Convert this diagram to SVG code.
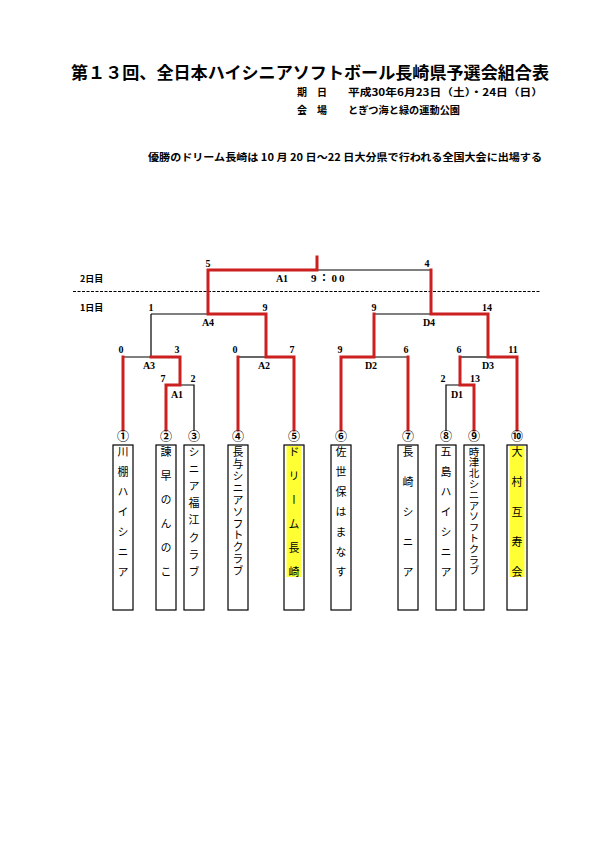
<svg xmlns="http://www.w3.org/2000/svg" width="595" height="842" viewBox="0 0 595 842">
<style>
.bg{fill:#ffffff}
.r{stroke:#cc1f1f;stroke-width:3;fill:none;stroke-linecap:square}
.k{stroke:#000;stroke-width:1.2;fill:none}
.dash{stroke:#000;stroke-width:1.2;stroke-dasharray:3 1.5;fill:none}
.box{fill:#fff;stroke:#000;stroke-width:1.2}
.hl{fill:#ffff33}
.title{font-family:"Noto Sans CJK JP","Noto Sans",sans-serif;font-weight:bold;font-size:17px;fill:#000}
.sub{font-family:"Noto Sans CJK JP","Noto Sans",sans-serif;font-weight:bold;font-size:10px;fill:#000}
.num{font-family:"Liberation Serif","Noto Sans CJK JP",serif;font-weight:bold;font-size:10px;fill:#000;text-anchor:middle}
.time{font-family:"Liberation Serif","Noto Sans CJK JP",serif;font-weight:bold;font-size:11px;fill:#000;letter-spacing:2px}
.day{font-family:"Noto Sans CJK JP",sans-serif;font-weight:bold;font-size:9px;fill:#000}
.circ{font-family:"Noto Sans CJK JP",sans-serif;font-weight:bold;font-size:12px;fill:#000;text-anchor:middle}
.team{font-family:"Noto Sans CJK JP",sans-serif;font-size:11px;fill:#000;writing-mode:vertical-rl}
.team9{font-family:"Noto Sans CJK JP",sans-serif;font-size:10.5px;fill:#000;writing-mode:vertical-rl}
</style>
<rect class="bg" x="0" y="0" width="595" height="842"/>

<g id="header">
<text class="title" x="71" y="79" textLength="478" lengthAdjust="spacingAndGlyphs">第１３回、全日本ハイシニアソフトボール長崎県予選会組合表</text>
<text class="sub" x="297" y="96">期</text>
<text class="sub" x="317" y="96">日</text>
<text class="sub" x="348" y="96" textLength="195" lengthAdjust="spacingAndGlyphs">平成30年6月23日（土）・24日（日）</text>
<text class="sub" x="297" y="114">会</text>
<text class="sub" x="317" y="114">場</text>
<text class="sub" x="348" y="114" textLength="112" lengthAdjust="spacingAndGlyphs">とぎつ海と緑の運動公園</text>
<text class="sub" x="148" y="161" textLength="394" lengthAdjust="spacingAndGlyphs">優勝のドリーム長崎は 10 月 20 日～22 日大分県で行われる全国大会に出場する</text>
</g>

<g id="days">
<text class="day" x="80" y="282">2日目</text>
<line class="dash" x1="73" y1="291.5" x2="540" y2="291.5"/>
<text class="day" x="80" y="311">1日目</text>
</g>

<g id="connectors">
<path class="k" d="M151 314 H208 M151 314 V357 M123 357 H151"/>
<path class="k" d="M180 385 H194 V431"/>
<path class="k" d="M238 357 H266"/>
<path class="k" d="M317 270 H431"/>
<path class="k" d="M374 314 H431"/>
<path class="k" d="M374 357 H408"/>
<path class="k" d="M460 357 H488"/>
<path class="k" d="M446 431 V385 H460"/>
<path class="r" d="M317 257 V270 H208 V314 H266 V357 H294 V430"/>
<path class="r" d="M238 357 V430"/>
<path class="r" d="M151 357 H180 V385 H166 V430"/>
<path class="r" d="M123 357 V430"/>
<path class="r" d="M431 270 V314 H488 V357 H517 V430"/>
<path class="r" d="M374 314 V357 H341 V430"/>
<path class="r" d="M408 357 V430"/>
<path class="r" d="M460 357 V385 H474 V430"/>
</g>

<g id="scores">
<text class="num" x="208" y="267">5</text>
<text class="num" x="427" y="267">4</text>
<text class="num" x="282" y="282">A1</text>
<text class="time" x="311" y="282">9：00</text>
<text class="num" x="151" y="311">1</text>
<text class="num" x="265" y="311">9</text>
<text class="num" x="208" y="326">A4</text>
<text class="num" x="374" y="311">9</text>
<text class="num" x="487" y="311">14</text>
<text class="num" x="429" y="326">D4</text>
<text class="num" x="121" y="353">0</text>
<text class="num" x="177" y="353">3</text>
<text class="num" x="149" y="369">A3</text>
<text class="num" x="235" y="353">0</text>
<text class="num" x="292" y="353">7</text>
<text class="num" x="264" y="369">A2</text>
<text class="num" x="163" y="382">7</text>
<text class="num" x="193" y="382">2</text>
<text class="num" x="177" y="398">A1</text>
<text class="num" x="340" y="353">9</text>
<text class="num" x="406" y="353">6</text>
<text class="num" x="371" y="369">D2</text>
<text class="num" x="459" y="353">6</text>
<text class="num" x="513" y="353">11</text>
<text class="num" x="488" y="369">D3</text>
<text class="num" x="443" y="382">2</text>
<text class="num" x="475" y="382">13</text>
<text class="num" x="457" y="398">D1</text>
</g>

<g id="team1">
<text class="circ" x="123" y="441">①</text>
<rect class="box" x="113" y="445" width="20" height="165"/>
<text class="team" x="123" y="446.5 466.5 486.5 506.5 526.5 546.5 566.5">川棚ハイシニア</text>
</g>
<g id="team2">
<text class="circ" x="166" y="441">②</text>
<rect class="box" x="156" y="445" width="20" height="165"/>
<text class="team" x="166" y="446.5 470.5 494.5 518.5 542.5 566.5">諫早のんのこ</text>
</g>
<g id="team3">
<text class="circ" x="194" y="441">③</text>
<rect class="box" x="184" y="445" width="20" height="165"/>
<text class="team" x="194" y="446.5 463.6 480.6 497.7 514.8 531.9 548.9 566">シニア福江クラブ</text>
</g>
<g id="team4">
<text class="circ" x="238" y="441">④</text>
<rect class="box" x="228" y="445" width="20" height="165"/>
<text class="team" x="238" y="446.5 458.4 470.3 482.2 494.1 506 517.9 529.8 541.7 553.6 565.5">長与シニアソフトクラブ</text>
</g>
<g id="team5">
<text class="circ" x="294" y="441">⑤</text>
<rect class="box" x="284" y="445" width="20" height="165"/>
<rect class="hl" x="286.5" y="446" width="15" height="131"/>
<text class="team" x="294" y="446.5 470.5 494.5 518.5 542.5 566.5">ドリーム長崎</text>
</g>
<g id="team6">
<text class="circ" x="341" y="441">⑥</text>
<rect class="box" x="331" y="445" width="20" height="165"/>
<text class="team" x="341" y="446.5 466.5 486.5 506.5 526.5 546.5 566.5">佐世保はまなす</text>
</g>
<g id="team7">
<text class="circ" x="408" y="441">⑦</text>
<rect class="box" x="398" y="445" width="20" height="165"/>
<text class="team" x="408" y="446.5 476.5 506.5 536.5 566.5">長崎シニア</text>
</g>
<g id="team8">
<text class="circ" x="446" y="441">⑧</text>
<rect class="box" x="436" y="445" width="20" height="165"/>
<text class="team" x="446" y="446.5 466.5 486.5 506.5 526.5 546.5 566.5">五島ハイシニア</text>
</g>
<g id="team9">
<text class="circ" x="474" y="441">⑨</text>
<rect class="box" x="464" y="445" width="20" height="165"/>
<text class="team9" x="474" y="446.3 457.1 467.9 478.7 489.5 500.3 511.1 521.9 532.7 543.5 554.3 565.1">時津北シニアソフトクラブ</text>
</g>
<g id="team10">
<text class="circ" x="517" y="441">⑩</text>
<rect class="box" x="507" y="445" width="20" height="165"/>
<rect class="hl" x="509.5" y="446" width="15" height="131"/>
<text class="team" x="517" y="446.5 476.5 506.5 536.5 566.5">大村互寿会</text>
</g>
</svg>
